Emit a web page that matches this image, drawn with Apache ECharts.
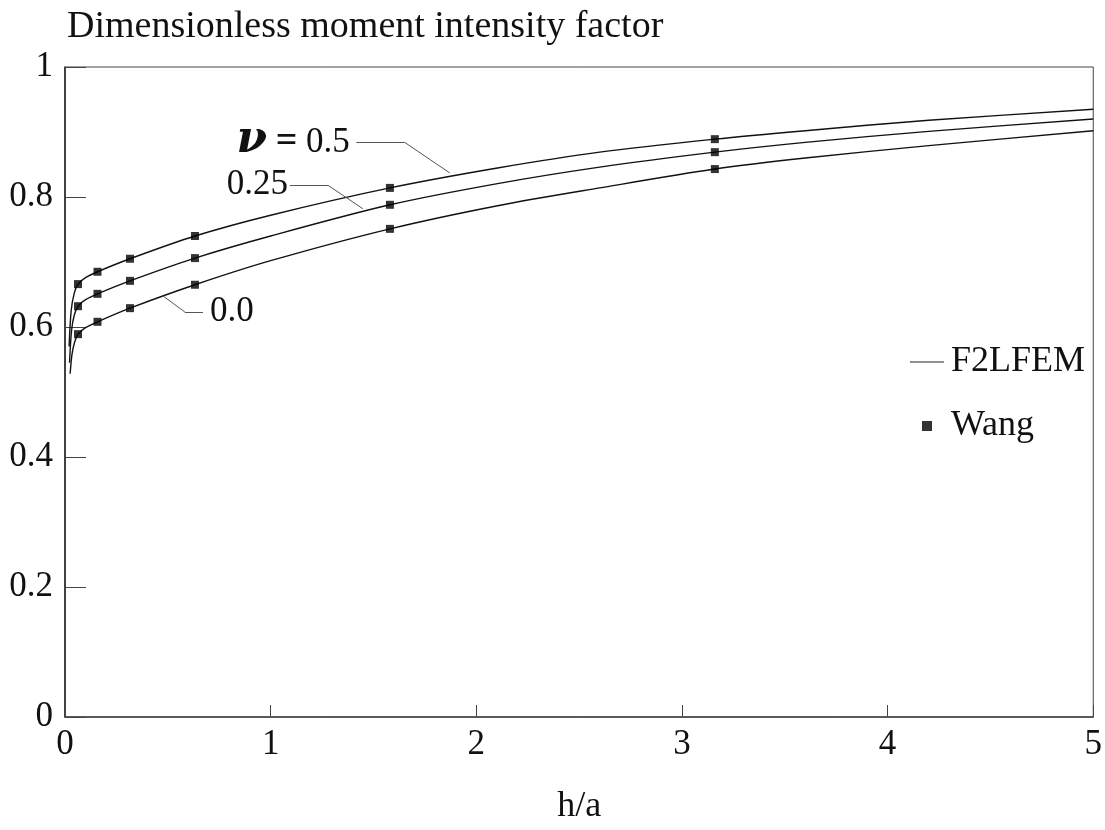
<!DOCTYPE html>
<html>
<head>
<meta charset="utf-8">
<script src="https://cdn.jsdelivr.net/npm/echarts@6/dist/echarts.min.js"></script>
<style>
html,body{margin:0;padding:0;background:#fff;}
#c{width:1105px;height:830px;}
</style>
</head>
<body>
<div id="c"></div>
<script>
// ---- data ----
const titleText = 'Dimensionless moment intensity factor';
const xName = 'h/a';
const xTicks = [0, 1, 2, 3, 4, 5];
const yTicks = [0, 0.2, 0.4, 0.6, 0.8, 1];

// Wang (symbols)
const wangX = [0.0632, 0.158, 0.316, 0.632, 1.58, 3.16];
const wangNu05 = [0.666, 0.685, 0.705, 0.740, 0.814, 0.889];
const wangNu025 = [0.632, 0.651, 0.671, 0.706, 0.788, 0.869];
const wangNu00 = [0.589, 0.608, 0.629, 0.665, 0.751, 0.843];

// F2LFEM (curves)
const curveX05 = [0.02, 0.03, 0.045, 0.0632, 0.1, 0.158, 0.316, 0.632, 1.0, 1.58, 2.11, 2.6, 3.16, 3.6, 4.2, 5];
const femNu05 = [0.570, 0.625, 0.652, 0.666, 0.676, 0.685, 0.705, 0.740, 0.772, 0.814, 0.845, 0.869, 0.889, 0.902, 0.918, 0.935];
const curveX025 = [0.022, 0.032, 0.045, 0.0632, 0.1, 0.158, 0.316, 0.632, 1.0, 1.58, 2.11, 2.6, 3.16, 3.6, 4.2, 5];
const femNu025 = [0.545, 0.595, 0.618, 0.632, 0.642, 0.651, 0.671, 0.706, 0.740, 0.788, 0.821, 0.846, 0.869, 0.884, 0.901, 0.920];
const curveX00 = [0.025, 0.034, 0.047, 0.0632, 0.1, 0.158, 0.316, 0.632, 1.0, 1.58, 2.11, 2.6, 3.16, 3.6, 4.2, 5];
const femNu00 = [0.528, 0.558, 0.577, 0.589, 0.599, 0.608, 0.629, 0.665, 0.702, 0.751, 0.787, 0.814, 0.843, 0.860, 0.879, 0.902];

// curve annotations: leader polylines (data coords) and label anchors
const leader05 = [[1.871, 0.837], [1.652, 0.884], [1.417, 0.884]];
const leader025 = [[1.448, 0.782], [1.279, 0.818], [1.093, 0.818]];
const leader00 = [[0.476, 0.648], [0.583, 0.623], [0.671, 0.623]];
const labelAnchor05 = [1.385, 0.884];
const labelAnchor025 = [1.084, 0.818];
const labelAnchor00 = [0.705, 0.623];

// ---- chart ----
const FONT = '"Liberation Serif", "DejaVu Serif", serif';
const pair = (xs, ys) => xs.map((x, i) => [x, ys[i]]);
const segs = (pts) => {
  const out = [];
  for (let i = 0; i < pts.length - 1; i++) out.push([{coord: pts[i]}, {coord: pts[i + 1]}]);
  return out;
};
const leaderLine = (pts) => ({
  silent: true, symbol: ['none', 'none'], animation: false,
  label: {show: false},
  lineStyle: {color: '#555', width: 1, type: 'solid'},
  emphasis: {disabled: true},
  data: segs(pts)
});
const labelPoint = (coord, text, pos) => ({
  silent: true, animation: false, symbol: 'circle', symbolSize: 0,
  data: [{coord: coord, value: 0}],
  label: {
    show: true, position: pos, distance: 0,
    formatter: text,
    fontFamily: FONT, fontSize: 35, color: '#111',
    rich: {
      nu: {fontFamily: '"DejaVu Serif", serif', fontSize: 44, fontStyle: 'italic', fontWeight: 'bold', color: '#111', padding: [0, 0, 4, 0]},
      eq: {fontFamily: FONT, fontSize: 38, fontWeight: 'bold', color: '#111'},
      t: {fontFamily: FONT, fontSize: 35, color: '#111'}
    }
  }
});

const lineStyle = {color: '#111', width: 1.4};
const curveSeries = (data, leader, lp) => ({
  name: 'F2LFEM', type: 'line', data: data, smooth: 0.3, showSymbol: false,
  symbol: 'none', lineStyle: lineStyle, itemStyle: {color: '#111'}, z: 2,
  animation: false,
  markLine: leaderLine(leader),
  markPoint: lp
});
const wangSeries = (data) => ({
  name: 'Wang', type: 'scatter', data: data, symbol: 'rect', symbolSize: 8,
  itemStyle: {color: '#000'}, z: 3, animation: false
});

const chart = echarts.init(document.getElementById('c'), null, {renderer: 'canvas'});
chart.setOption({
  backgroundColor: '#fff',
  animation: false,
  title: {
    text: titleText, left: 62, top: 3,
    textStyle: {fontFamily: FONT, fontSize: 38, fontWeight: 'normal', color: '#111'}
  },
  legend: {
    orient: 'vertical', left: 905, top: 339, itemGap: 28,
    itemWidth: 34, itemHeight: 14,
    textStyle: {fontFamily: FONT, fontSize: 36, color: '#111', padding: [0, 0, 0, 2]},
    data: [
      {name: 'F2LFEM', icon: 'path://M0,7 L34,7 L34,8 L0,8 Z', itemStyle: {color: '#222'}},
      {name: 'Wang', icon: 'path://M0,0 L0.01,0 L0.01,0.01 Z M12,2 L22,2 L22,12 L12,12 Z M34,14 L33.99,14 L33.99,13.99 Z', itemStyle: {color: '#000'}}
    ],
    selectedMode: false
  },
  grid: {
    left: 65, right: 11, top: 67, bottom: 113,
    show: true, borderColor: '#444', borderWidth: 1, backgroundColor: 'transparent'
  },
  xAxis: {
    type: 'value', min: 0, max: 5, interval: 1,
    name: xName, nameLocation: 'middle', nameGap: 72,
    nameTextStyle: {fontFamily: FONT, fontSize: 36, color: '#111'},
    axisLine: {show: true, lineStyle: {color: '#444', width: 1.5}},
    axisTick: {show: true, inside: true, length: 12, lineStyle: {color: '#444', width: 1}},
    axisLabel: {fontFamily: FONT, fontSize: 35, color: '#111', margin: 10,
      formatter: v => xTicks.includes(v) ? String(v) : ''},
    splitLine: {show: false}
  },
  yAxis: {
    type: 'value', min: 0, max: 1, interval: 0.2,
    axisLine: {show: true, lineStyle: {color: '#222', width: 1.5}},
    axisTick: {show: true, inside: true, length: 21, lineStyle: {color: '#444', width: 1}},
    axisLabel: {fontFamily: FONT, fontSize: 35, color: '#111', margin: 12,
      formatter: v => {
        const t = yTicks.find(y => Math.abs(y - v) < 1e-9);
        return t === undefined ? '' : (t === 0 || t === 1 ? String(t) : t.toFixed(1));
      }},
    splitLine: {show: false}
  },
  series: [
    curveSeries(pair(curveX05, femNu05), leader05,
      labelPoint(labelAnchor05, '{nu|ν}{t| }{eq|=}{t| 0.5}', 'left')),
    curveSeries(pair(curveX025, femNu025), leader025,
      labelPoint(labelAnchor025, '0.25', 'left')),
    curveSeries(pair(curveX00, femNu00), leader00,
      labelPoint(labelAnchor00, '0.0', 'right')),
    wangSeries(pair(wangX, wangNu05)),
    wangSeries(pair(wangX, wangNu025)),
    wangSeries(pair(wangX, wangNu00))
  ]
});
</script>
</body>
</html>
